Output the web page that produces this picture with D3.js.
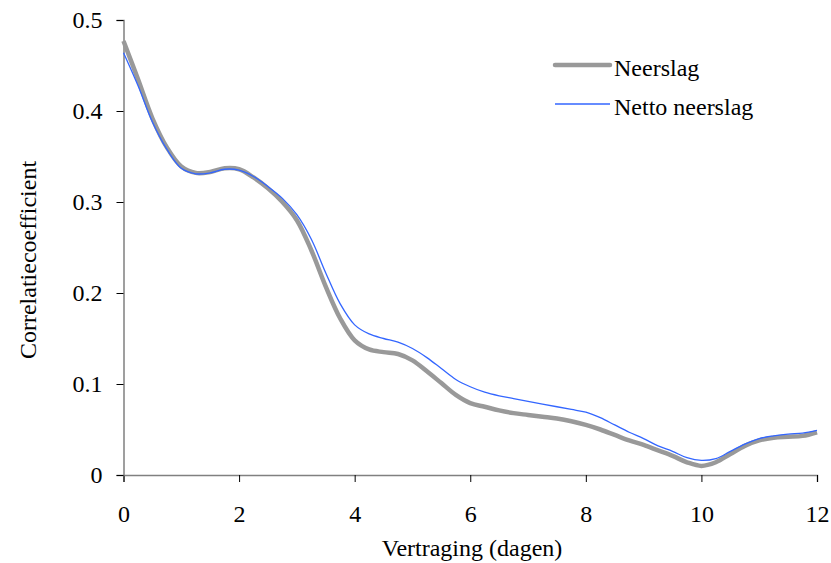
<!DOCTYPE html>
<html>
<head>
<meta charset="utf-8">
<script src="https://cdn.jsdelivr.net/npm/d3@7"></script>
<style>
  body { margin: 0; background: #fff; }
  text { font-family: "Liberation Serif", "Times New Roman", serif; fill: #000; }
</style>
</head>
<body>
<svg id="chart" width="831" height="563"></svg>
<script>
const days = d3.range(0, 12.001, 0.25);
const neerslag = [0.477, 0.435, 0.392, 0.360, 0.339, 0.332, 0.333, 0.337, 0.336, 0.327, 0.315, 0.300, 0.280,
  0.247, 0.207, 0.172, 0.148, 0.138, 0.135, 0.133, 0.126, 0.114, 0.101, 0.088, 0.079, 0.075, 0.071, 0.068,
  0.066, 0.064, 0.062, 0.059, 0.055, 0.050, 0.044, 0.038, 0.033, 0.027, 0.021, 0.014, 0.010, 0.014, 0.023,
  0.032, 0.038, 0.041, 0.042, 0.043, 0.047];
const netto = [0.464, 0.428, 0.388, 0.358, 0.337, 0.331, 0.332, 0.336, 0.335, 0.328, 0.317, 0.304, 0.286,
  0.259, 0.222, 0.188, 0.165, 0.155, 0.150, 0.146, 0.139, 0.129, 0.117, 0.105, 0.097, 0.091, 0.087, 0.084,
  0.081, 0.078, 0.075, 0.072, 0.069, 0.063, 0.055, 0.047, 0.040, 0.032, 0.026, 0.019, 0.016, 0.018, 0.026,
  0.034, 0.040, 0.043, 0.045, 0.046, 0.049];
const xTicks = [0, 2, 4, 6, 8, 10, 12];
const yTicks = [0, 0.1, 0.2, 0.3, 0.4, 0.5];

const series = [
  { name: "Neerslag", values: neerslag, color: "#999999", width: 4.5 },
  { name: "Netto neerslag", values: netto, color: "#3366ff", width: 1.3 }
];

const margin = { top: 20, right: 14, bottom: 88, left: 123.5 };
const width = 831 - margin.left - margin.right;
const height = 563 - margin.top - margin.bottom;
const fontSize = "24px";

const svg = d3.select("#chart");
const g = svg.append("g").attr("transform", `translate(${margin.left},${margin.top})`);

const x = d3.scaleLinear().domain([0, 12]).range([0, width]);
const y = d3.scaleLinear().domain([0, 0.5]).range([height, 0]);

const xAxis = g.append("g")
  .attr("transform", `translate(0,${height})`)
  .call(d3.axisBottom(x).tickValues(xTicks).tickSize(7).tickPadding(23).tickFormat(d3.format("d")));
const yAxis = g.append("g")
  .call(d3.axisLeft(y).tickValues(yTicks).tickSize(7).tickPadding(14).tickFormat(d => d === 0 ? "0" : d3.format(".1f")(d)));

[xAxis, yAxis].forEach(a => {
  a.selectAll(".domain").attr("stroke", "#808080").attr("stroke-width", 1.5);
  a.selectAll(".tick line").attr("stroke", "#000");
  a.selectAll(".tick text").style("font-size", fontSize).style("font-family", "Liberation Serif, serif");
});

const line = d3.line()
  .x((d, i) => x(days[i]))
  .y(d => y(d))
  .curve(d3.curveCatmullRom);

series.forEach(s => {
  g.append("path")
    .datum(s.values)
    .attr("fill", "none")
    .attr("stroke", s.color)
    .attr("stroke-width", s.width)
    .attr("stroke-linejoin", "round")
    .attr("d", line);
});

// legend
const legend = svg.append("g").attr("transform", "translate(555,65)");
series.forEach((s, i) => {
  const row = legend.append("g").attr("transform", `translate(0,${i * 39})`);
  row.append("line").attr("x1", 0).attr("x2", 55)
    .attr("stroke", s.color).attr("stroke-width", s.width).attr("stroke-linecap", s.width > 2 ? "round" : "butt");
  row.append("text").attr("x", 59).attr("y", 11).style("font-size", fontSize).text(s.name);
});

svg.append("text")
  .attr("x", 472).attr("y", 556)
  .attr("text-anchor", "middle").style("font-size", fontSize)
  .text("Vertraging (dagen)");

svg.append("text")
  .attr("transform", `translate(36,260) rotate(-90)`)
  .attr("text-anchor", "middle").style("font-size", fontSize)
  .text("Correlatiecoefficient");
</script>
</body>
</html>
